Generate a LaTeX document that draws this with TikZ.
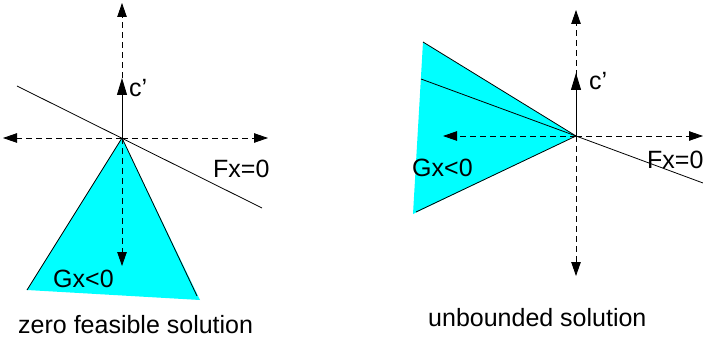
\documentclass[tikz,border=0pt]{standalone}
\usepackage{fontspec}
\setmainfont{Liberation Sans}
\usetikzlibrary{arrows.meta}
\definecolor{conefill}{RGB}{0,255,255}
\begin{document}
\begin{tikzpicture}[x=1pt,y=-1pt,
  axis/.style={line width=0.8pt, dash pattern=on 6pt off 4pt, -{Triangle[length=14pt,width=9.5pt]}},
  vec/.style={line width=0.9pt, -{Triangle[length=17pt,width=10pt]}},
  edge/.style={line width=0.8pt},
  lbl/.style={anchor=base west, inner sep=0pt, font=\fontsize{25}{29}\selectfont}]
\useasboundingbox (0,0) rectangle (703,339);
% ---- left diagram ----
\coordinate (O1) at (122,138);
\coordinate (A1top) at (122,3);
\coordinate (A1bot) at (122,266);
\coordinate (A1left) at (3,138);
\coordinate (A1right) at (268,138);
\coordinate (C1) at (122,78);
\coordinate (F1a) at (17,86);
\coordinate (F1b) at (262,208);
\coordinate (T1l) at (27,290);
\coordinate (T1r) at (200,300);
\coordinate (T1re) at (197,296);
\fill[conefill] (O1) -- (T1l) -- (T1r) -- cycle;
\draw[edge] (O1) -- (T1l);
\draw[edge] (O1) -- (T1re);
\draw[axis] (O1) -- (A1top);
\draw[axis] (O1) -- (A1bot);
\draw[axis] (O1) -- (A1left);
\draw[axis] (O1) -- (A1right);
\draw[edge] (F1a) -- (F1b);
\draw[vec] (O1) -- (C1);
\node[lbl] (c1) at (129,97) {c’};
\node[lbl] (f1) at (213,177) {Fx=0};
\node[lbl] (g1) at (53,287) {Gx<0};
\node[lbl] (cap1) at (18,333) {zero feasible solution};
% ---- right diagram ----
\coordinate (O2) at (576,136);
\coordinate (A2top) at (576,10);
\coordinate (A2bot) at (576,276);
\coordinate (A2left) at (443,136);
\coordinate (A2right) at (703,136);
\coordinate (C2) at (576,73);
\coordinate (F2b) at (703,183);
\coordinate (T2t) at (423,42);
\coordinate (T2b) at (413,214);
\coordinate (T2m) at (421,79);
\coordinate (T2be) at (416,212);
\fill[conefill] (O2) -- (T2t) -- (T2b) -- cycle;
\draw[edge] (T2t) -- (O2);
\draw[edge] (T2m) -- (O2);
\draw[edge] (T2be) -- (O2);
\draw[axis] (O2) -- (A2top);
\draw[axis] (O2) -- (A2bot);
\draw[axis] (O2) -- (A2left);
\draw[axis] (O2) -- (A2right);
\draw[edge] (O2) -- (F2b);
\draw[vec] (O2) -- (C2);
\node[lbl] (c2) at (589,90) {c’};
\node[lbl] (f2) at (647,168) {Fx=0};
\node[lbl] (g2) at (412,176) {Gx<0};
\node[lbl] (cap2) at (428,326) {unbounded solution};
\end{tikzpicture}
\end{document}
